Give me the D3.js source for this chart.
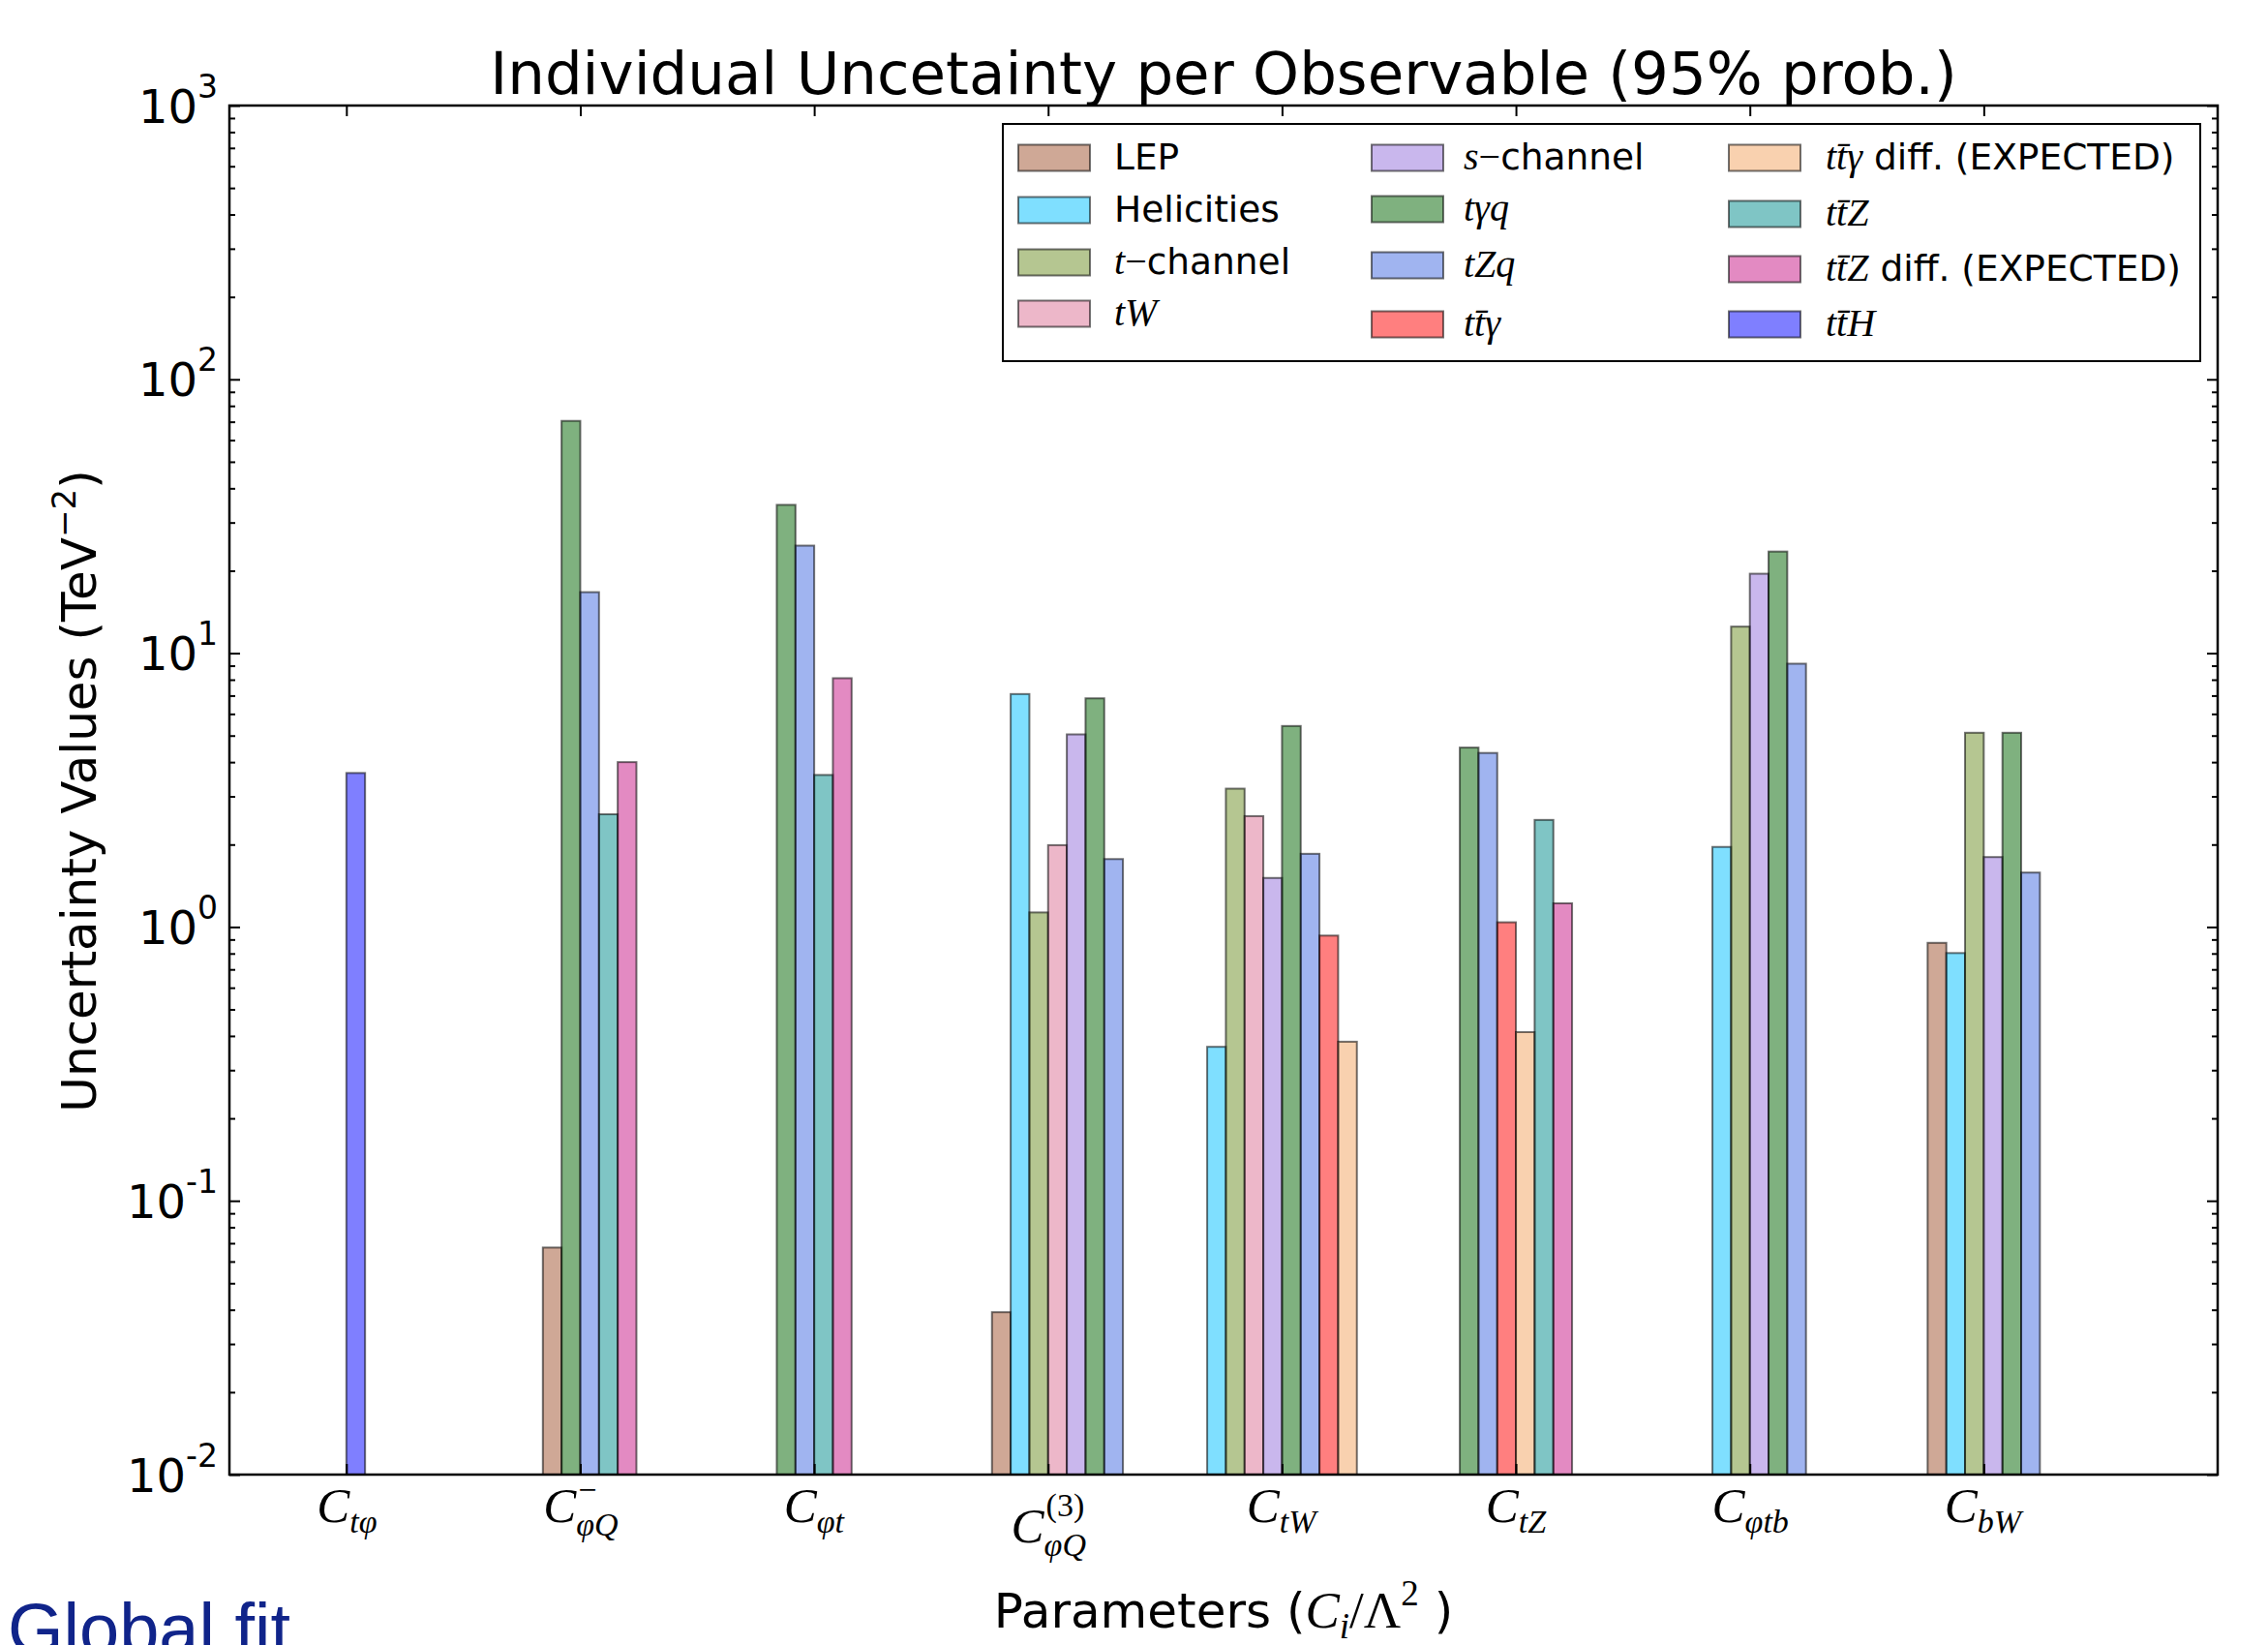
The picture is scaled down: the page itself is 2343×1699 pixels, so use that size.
<!DOCTYPE html>
<html>
<head>
<meta charset="utf-8">
<script src="https://cdn.jsdelivr.net/npm/d3@7"></script>
<style>
  body { margin: 0; background: #fff; }
  svg { display: block; }
</style>
</head>
<body>
<svg id="chart" width="2343" height="1699"></svg>
<script>
// ---------------- DATA ----------------
const categoryMain = ["C", "C", "C", "C", "C", "C", "C", "C"];
const categorySub  = ["tφ", "φQ", "φt", "φQ", "tW", "tZ", "φtb", "bW"];
const categorySup  = ["", "−", "", "(3)", "", "", "", ""];

const seriesNames = ["LEP", "Helicities", "t-channel", "tW", "s-channel", "tγq", "tZq",
                     "tt̄γ", "tt̄γ diff. (EXPECTED)", "tt̄Z", "tt̄Z diff. (EXPECTED)", "tt̄H"];
const seriesColors = ["#a0522d", "#00bfff", "#6b8e23", "#db7093", "#9370db", "#006400",
                      "#4169e1", "#ff0000", "#f4a460", "#008b8b", "#c71585", "#0000ff"];

// values per category (order of categorySub); null = no bar
const LEP         = [null, 0.0675, null, 0.0392, null,  null,  null, 0.875];
const Helicities  = [null, null,   null, 7.09,   0.365, null,  1.96, 0.803];
const tChannel    = [null, null,   null, 1.13,   3.2,   null,  12.5, 5.12];
const tW          = [null, null,   null, 1.99,   2.54,  null,  null, null];
const sChannel    = [null, null,   null, 5.05,   1.51,  null,  19.5, 1.80];
const tGammaQ     = [null, 70.5,   34.8, 6.84,   5.42,  4.52,  23.5, 5.12];
const tZq         = [null, 16.7,   24.7, 1.77,   1.85,  4.32,  9.15, 1.58];
const ttGamma     = [null, null,   null, null,   0.93,  1.04,  null, null];
const ttGammaDiff = [null, null,   null, null,   0.381, 0.413, null, null];
const ttZ         = [null, 2.58,   3.59, null,   null,  2.46,  null, null];
const ttZDiff     = [null, 4.0,    8.1,  null,   null,  1.22,  null, null];
const ttH         = [3.65, null,   null, null,   null,  null,  null, null];

const seriesValues = [LEP, Helicities, tChannel, tW, sChannel, tGammaQ, tZq,
                      ttGamma, ttGammaDiff, ttZ, ttZDiff, ttH];

const yMajorTicks = [1e-2, 1e-1, 1e0, 1e1, 1e2, 1e3];
const yTickExponents = ["-2", "-1", "0", "1", "2", "3"];

// legend label pieces: [text, style]  (sans | mi = math italic | mu = math upright)
const legendLabels = [
  [["LEP", "sans"]],
  [["Helicities", "sans"]],
  [["t", "mi"], ["−", "mu"], ["channel", "sans"]],
  [["tW", "mi"]],
  [["s", "mi"], ["−", "mu"], ["channel", "sans"]],
  [["tγq", "mi"]],
  [["tZq", "mi"]],
  [["tt\u0304γ", "mi"]],
  [["tt\u0304γ", "mi"], [" diff. (EXPECTED)", "sans"]],
  [["tt\u0304Z", "mi"]],
  [["tt\u0304Z", "mi"], [" diff. (EXPECTED)", "sans"]],
  [["tt\u0304H", "mi"]]
];

// ---------------- LAYOUT ----------------
const SANS = "'DejaVu Sans', sans-serif";
const MATH = "'Liberation Serif', 'DejaVu Serif', serif";
const plot = { left: 237, right: 2291, top: 109, bottom: 1523 };
const barW = 0.08;

const svg = d3.select("#chart");
const x = d3.scaleLinear().domain([-0.5, 8]).range([plot.left, plot.right]);
const y = d3.scaleLog().domain([1e-2, 1e3]).range([plot.bottom, plot.top]);

svg.append("rect").attr("width", 2343).attr("height", 1699).attr("fill", "#fff");

svg.append("defs").append("clipPath").attr("id", "clip")
  .append("rect").attr("x", plot.left).attr("y", plot.top)
  .attr("width", plot.right - plot.left).attr("height", plot.bottom - plot.top);

// ---------------- BARS ----------------
const bars = [];
categorySub.forEach((_, ci) => {
  const present = seriesValues
    .map((vals, si) => ({ si, v: vals[ci] }))
    .filter(d => d.v != null);
  const n = present.length;
  present.forEach((d, j) => {
    bars.push({ cat: ci, slot: j - Math.floor(n / 2), value: d.v, color: seriesColors[d.si] });
  });
});

svg.append("g").attr("clip-path", "url(#clip)")
  .selectAll("rect").data(bars).join("rect")
  .attr("x", d => x(d.cat + d.slot * barW))
  .attr("width", x(barW) - x(0))
  .attr("y", d => y(d.value))
  .attr("height", d => y(1e-2) - y(d.value) + 2)
  .attr("fill", d => d.color).attr("fill-opacity", 0.5)
  .attr("stroke", "#000").attr("stroke-opacity", 0.55).attr("stroke-width", 2);

// ---------------- AXES ----------------
const yMinor = [];
for (let e = -2; e < 3; e++) for (let m = 2; m <= 9; m++) yMinor.push(m * Math.pow(10, e));

function styleAxis(g) {
  g.select(".domain").remove();
  g.selectAll(".tick line").attr("stroke", "#000").attr("stroke-width", 2);
}

// left major with labels
const gyL = svg.append("g").attr("transform", `translate(${plot.left},0)`)
  .call(d3.axisLeft(y).tickValues(yMajorTicks).tickSizeInner(-11).tickSizeOuter(0)
        .tickPadding(12).tickFormat(""));
styleAxis(gyL);
gyL.attr("font-size", null).attr("font-family", null);
gyL.selectAll(".tick text").each(function (d, i) {
  const t = d3.select(this);
  t.attr("dy", null).attr("y", 17).attr("fill", "#000")
   .attr("font-family", SANS).attr("text-anchor", "end");
  t.append("tspan").attr("font-size", 48).text("10");
  t.append("tspan").attr("font-size", 33).attr("dy", -26).text(yTickExponents[i]);
});
// left minor
styleAxis(svg.append("g").attr("transform", `translate(${plot.left},0)`)
  .call(d3.axisLeft(y).tickValues(yMinor).tickSizeInner(-6).tickSizeOuter(0).tickFormat("")));
// right major/minor
styleAxis(svg.append("g").attr("transform", `translate(${plot.right},0)`)
  .call(d3.axisRight(y).tickValues(yMajorTicks).tickSizeInner(-11).tickSizeOuter(0).tickFormat("")));
styleAxis(svg.append("g").attr("transform", `translate(${plot.right},0)`)
  .call(d3.axisRight(y).tickValues(yMinor).tickSizeInner(-6).tickSizeOuter(0).tickFormat("")));
// top
styleAxis(svg.append("g").attr("transform", `translate(0,${plot.top})`)
  .call(d3.axisTop(x).tickValues(d3.range(categorySub.length)).tickSizeInner(-11).tickSizeOuter(0).tickFormat("")));

// bottom with math labels (one text element per label, tspans for sup/sub)
const gx = svg.append("g").attr("transform", `translate(0,${plot.bottom})`)
  .call(d3.axisBottom(x).tickValues(d3.range(categorySub.length)).tickSizeInner(-11)
        .tickSizeOuter(0).tickFormat(""));
styleAxis(gx);
gx.attr("font-size", null).attr("font-family", null);
gx.selectAll(".tick").each(function (d, i) {
  const tick = d3.select(this);
  tick.select("text").remove();
  const sup = categorySup[i];
  const tall = sup.length > 1;
  const base = tall ? 70 : 49;
  const t = tick.append("text").attr("x", 0).attr("y", base)
    .attr("text-anchor", "start").attr("fill", "#000").attr("font-family", MATH);
  t.append("tspan").attr("font-style", "italic").attr("font-size", 51).text(categoryMain[i]);
  let supLen = 0;
  const up = tall ? 27 : 22;
  if (sup) {
    const s = t.append("tspan").attr("font-size", 34).attr("dx", 2).attr("dy", -up).text(sup);
    supLen = s.node().getComputedTextLength() + 2;
  }
  const down = sup ? 14 : 11;
  t.append("tspan").attr("font-style", "italic").attr("font-size", 34)
    .attr("dx", -supLen).attr("dy", (sup ? up : 0) + down).text(categorySub[i]);
  const bb = t.node().getBBox();
  t.attr("x", -(bb.x + bb.width / 2));
});

// frame
svg.append("rect").attr("x", plot.left).attr("y", plot.top)
  .attr("width", plot.right - plot.left).attr("height", plot.bottom - plot.top)
  .attr("fill", "none").attr("stroke", "#000").attr("stroke-width", 2.5);

// ---------------- TEXTS ----------------
svg.append("text").attr("x", (plot.left + plot.right) / 2).attr("y", 97)
  .attr("text-anchor", "middle").attr("font-family", SANS).attr("font-size", 61)
  .attr("fill", "#000").text("Individual Uncetainty per Observable (95% prob.)");

// y label
const yl = svg.append("text").attr("transform", "translate(99,817) rotate(-90)")
  .attr("text-anchor", "middle").attr("font-family", SANS).attr("font-size", 50).attr("fill", "#000");
yl.append("tspan").text("Uncertainty Values (TeV");
yl.append("tspan").attr("font-size", 34).attr("dy", -21).text("−2");
yl.append("tspan").attr("dy", 21).text(")");

// x label
const xl = svg.append("text").attr("x", (plot.left + plot.right) / 2).attr("y", 1681)
  .attr("text-anchor", "middle").attr("font-size", 50).attr("fill", "#000");
xl.append("tspan").attr("font-family", SANS).text("Parameters (");
xl.append("tspan").attr("font-family", MATH).attr("font-style", "italic").attr("font-size", 53).text("C");
xl.append("tspan").attr("font-family", MATH).attr("font-style", "italic").attr("font-size", 37).attr("dy", 11).text("i");
xl.append("tspan").attr("font-family", MATH).attr("font-size", 53).attr("dy", -11).text("/Λ");
xl.append("tspan").attr("font-family", MATH).attr("font-size", 37).attr("dy", -23).text("2");
xl.append("tspan").attr("font-family", SANS).attr("dy", 23).text(" )");

// Global fit
svg.append("text").attr("x", 8).attr("y", 1708)
  .attr("font-family", "'Liberation Sans', Arial, sans-serif").attr("font-size", 74)
  .attr("fill", "#10248a").text("Global fit");

// ---------------- LEGEND ----------------
const legendBox = { x: 1036, y: 128, w: 1237, h: 245 };
const legendColX = [1052, 1417, 1786];
const legendTextX = [1151, 1512, 1886];
const legendRowY = [[163, 217, 271, 324], [163, 216, 274, 335], [163, 221, 278, 335]];

const lg = svg.append("g");
lg.append("rect").attr("x", legendBox.x).attr("y", legendBox.y)
  .attr("width", legendBox.w).attr("height", legendBox.h)
  .attr("fill", "#fff").attr("stroke", "#000").attr("stroke-width", 2);

seriesNames.forEach((name, k) => {
  const col = Math.floor(k / 4), row = k % 4;
  const cy = legendRowY[col][row];
  lg.append("rect").attr("x", legendColX[col]).attr("y", cy - 13.5)
    .attr("width", 74).attr("height", 27)
    .attr("fill", seriesColors[k]).attr("fill-opacity", 0.5)
    .attr("stroke", "#000").attr("stroke-opacity", 0.55).attr("stroke-width", 2);
  const t = lg.append("text").attr("x", legendTextX[col]).attr("y", cy + 12).attr("fill", "#000");
  legendLabels[k].forEach(([txt, st]) => {
    const ts = t.append("tspan").text(txt);
    if (st === "sans") ts.attr("font-family", SANS).attr("font-size", 37.5);
    else if (st === "mi") ts.attr("font-family", MATH).attr("font-style", "italic").attr("font-size", 40);
    else ts.attr("font-family", MATH).attr("font-size", 40);
  });
});
</script>
</body>
</html>
